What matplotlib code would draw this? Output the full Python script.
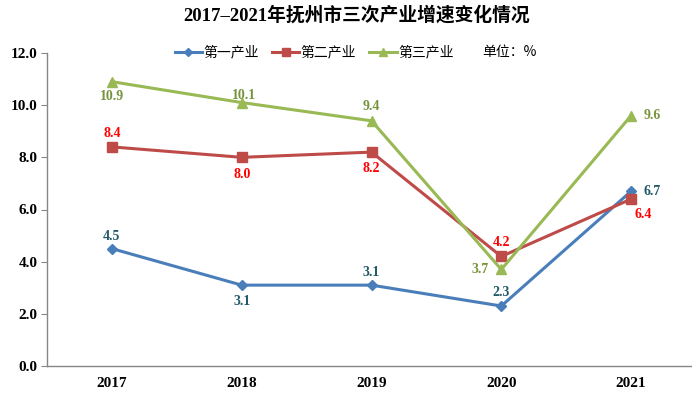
import matplotlib
matplotlib.use("Agg")
import matplotlib.pyplot as plt

years = ["2017", "2018", "2019", "2020", "2021"]
primary = [4.5, 3.1, 3.1, 2.3, 6.7]
secondary = [8.4, 8.0, 8.2, 4.2, 6.4]
tertiary = [10.9, 10.1, 9.4, 3.7, 9.6]
names = ["第一产业", "第二产业", "第三产业"]

serif = ["Liberation Serif", "Noto Sans CJK SC"]
cjk = ["Noto Sans CJK SC", "DejaVu Sans"]

fig = plt.figure(figsize=(6.92, 3.97), dpi=100)
ax = fig.add_axes([47 / 692, 31 / 397, 649 / 692, 313 / 397])

x = list(range(len(years)))
l1, = ax.plot(x, primary, color="#4A7EBB", lw=2.2, marker="D", ms=5.5, label=names[0])
l2, = ax.plot(x, secondary, color="#BE4B48", lw=2.2, marker="s", ms=7, label=names[1])
l3, = ax.plot(x, tertiary, color="#98B954", lw=2.2, marker="^", ms=7.5, label=names[2])

# label offsets in points (dx, dy)
off1 = [(0, 9), (0, -12), (0, 9), (0, 10), (15, 0)]
off2 = [(0, 10), (0, -12), (0, -12), (0, 10), (9, -11)]
off3 = [(0, -11), (2, 5), (0, 10), (-15, 0), (15, 0)]
for vals, offs, col in [(primary, off1, "#215968"), (secondary, off2, "#FF0000"),
                        (tertiary, off3, "#77933C")]:
    for i, v in enumerate(vals):
        ax.annotate(f"{v:.1f}", (i, v), xytext=offs[i], textcoords="offset points",
                    ha="center", va="center", color=col, fontsize=10,
                    fontweight="bold", family=serif)

ax.set_xlim(-0.5, 4.5)
ax.set_ylim(0, 12)
ax.set_yticks([0, 2, 4, 6, 8, 10, 12])
ax.set_yticklabels([f"{t:.1f}" for t in [0, 2, 4, 6, 8, 10, 12]])
ax.set_xticks(x)
ax.set_xticklabels(years)
for lab in ax.get_xticklabels() + ax.get_yticklabels():
    lab.set_family(serif)
    lab.set_fontweight("bold")
    lab.set_fontsize(11)
ax.tick_params(axis="x", length=0, pad=8)
ax.tick_params(axis="y", length=4, color="#868686", pad=3)
for s in ["top", "right"]:
    ax.spines[s].set_visible(False)
for s in ["left", "bottom"]:
    ax.spines[s].set_color("#868686")
    ax.spines[s].set_linewidth(1)

fig.text(357 / 692, 0.962, "2017–2021年抚州市三次产业增速变化情况", ha="center", va="center",
         fontsize=13.5, fontweight="bold", family=serif)
leg = fig.legend(handles=[l1, l2, l3], loc="center left", bbox_to_anchor=(162 / 692, 0.868),
                 ncol=3, frameon=False, prop={"family": cjk, "size": 10},
                 handlelength=2.0, handletextpad=0.1, columnspacing=0.9,
                 markerscale=0.75)
fig.text(482 / 692, 0.868, "单位：%", ha="left", va="center", fontsize=10, family=cjk)

fig.savefig("out.png", dpi=100)
